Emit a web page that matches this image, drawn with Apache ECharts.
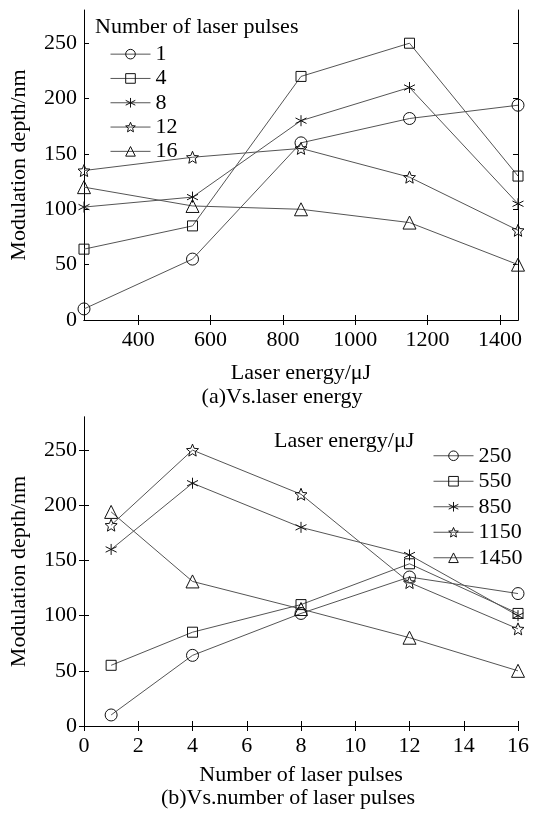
<!DOCTYPE html>
<html>
<head>
<meta charset="utf-8">
<script src="https://cdn.jsdelivr.net/npm/echarts@6/dist/echarts.min.js"></script>
<style>
  html, body { margin: 0; padding: 0; background: #fff; }
  #main { width: 536px; height: 813px; }
</style>
</head>
<body>
<div id="main"></div>
<script>
// (a) x = laser energy, one line per number of pulses
var energies = [250, 550, 850, 1150, 1450];
var pulses1 = [10, 55, 160, 182, 194];
var pulses4 = [64, 85, 220, 250, 130];
var pulses8 = [102, 111, 180, 210, 105];
var pulses12 = [135, 147, 155, 129, 81];
var pulses16 = [120, 103, 100, 88, 50];
var pulseNames = ['1', '4', '8', '12', '16'];

// (b) x = number of pulses, one line per laser energy
var pulseCounts = [1, 4, 8, 12, 16];
var energy250 = [10, 64, 102, 135, 120];
var energy550 = [55, 85, 110, 147, 102];
var energy850 = [160, 220, 180, 155, 100];
var energy1150 = [182, 250, 210, 130, 88];
var energy1450 = [194, 131, 106, 80, 50];
var energyNames = ['250', '550', '850', '1150', '1450'];

var energyTicks = [400, 600, 800, 1000, 1200, 1400];
var depthTicks = [0, 50, 100, 150, 200, 250];

var FONT = 'Liberation Serif';
var FS = 22;
var STAR = 'path://M0,-1L0.265,-0.364L0.951,-0.309L0.428,0.139L0.588,0.809L0,0.45L-0.588,0.809L-0.428,0.139L-0.951,-0.309L-0.265,-0.364Z';
var ASTER = 'path://M0,-1L0,1M-0.87,-0.5L0.87,0.5M-0.87,0.5L0.87,-0.5';
var symbols = ['circle', 'rect', ASTER, STAR, 'triangle'];
var sizes = [12, 10, 11, 12, 13];

var chart = echarts.init(document.getElementById('main'));

function pairs(xs, ys) {
    var res = [];
    for (var i = 0; i < xs.length; i++) res.push([xs[i], ys[i]]);
    return res;
}

function makeSeries(names, xs, sets, axisIdx) {
    return names.map(function (n, i) {
        return {
            name: n,
            type: 'line',
            xAxisIndex: axisIdx,
            yAxisIndex: axisIdx,
            data: pairs(xs, sets[i]),
            symbol: symbols[i],
            symbolSize: sizes[i],
            showAllSymbol: true,
            lineStyle: { color: '#555', width: 1 },
            itemStyle: { color: 'transparent', borderColor: '#111', borderWidth: 1 },
            emphasis: { disabled: true },
            z: 3
        };
    });
}

var plain = function (v) { return String(v); };
var axisLine = { show: true, lineStyle: { color: '#000', width: 1 } };
var tickIn = { show: true, inside: true, length: 5, lineStyle: { color: '#000' } };
var labelStyle = { fontFamily: FONT, fontSize: FS, color: '#000', formatter: plain };
var nameStyle = { fontFamily: FONT, fontSize: FS, color: '#000' };

function mainX(grid, min, max, name, extra) {
    return Object.assign({
        type: 'value', gridIndex: grid, min: min, max: max, position: 'bottom',
        name: name, nameLocation: 'middle', nameGap: 42, nameTextStyle: nameStyle,
        axisLine: axisLine, axisTick: tickIn,
        axisLabel: Object.assign({ margin: 9 }, labelStyle),
        splitLine: { show: false }
    }, extra || {});
}
function mirrorX(grid, min, max, extra) {
    return Object.assign({
        type: 'value', gridIndex: grid, min: min, max: max, position: 'top',
        axisLine: axisLine, axisTick: tickIn, axisLabel: { show: false },
        splitLine: { show: false }
    }, extra || {});
}
function mainY(grid) {
    return {
        type: 'value', gridIndex: grid, min: 0, max: 280, position: 'left',
        name: 'Modulation depth/nm', nameLocation: 'middle', nameGap: 54,
        nameTextStyle: nameStyle,
        axisLine: axisLine,
        axisTick: Object.assign({ customValues: depthTicks }, tickIn),
        axisLabel: Object.assign({ margin: 7, customValues: depthTicks }, labelStyle),
        splitLine: { show: false }
    };
}
function mirrorY(grid) {
    return {
        type: 'value', gridIndex: grid, min: 0, max: 280, position: 'right',
        axisLine: axisLine,
        axisTick: Object.assign({ customValues: depthTicks }, tickIn),
        axisLabel: { show: false, customValues: depthTicks },
        splitLine: { show: false }
    };
}

function legendFor(names, left, top, lh) {
    return {
        data: names, left: left, top: top,
        orient: 'vertical',
        itemWidth: 40, itemHeight: 12, itemGap: 2,
        textStyle: { fontFamily: FONT, fontSize: FS, color: '#000', lineHeight: lh },
        itemStyle: { color: 'transparent', borderColor: '#111', borderWidth: 1 },
        lineStyle: { color: '#555', width: 1 },
        selectedMode: false
    };
}

var option = {
    animation: false,
    backgroundColor: '#fff',
    textStyle: { fontFamily: FONT },
    grid: [
        { left: 82, right: 18, top: 10, height: 310 },
        { left: 83, right: 18, top: 417, height: 309 }
    ],
    xAxis: [
        mainX(0, 250, 1450, 'Laser energy/\u03bcJ', {
            axisTick: Object.assign({ customValues: energyTicks }, tickIn),
            axisLabel: Object.assign({ margin: 9, customValues: energyTicks }, labelStyle)
        }),
        mirrorX(0, 250, 1450, { axisTick: Object.assign({ customValues: energyTicks }, tickIn) }),
        mainX(1, 0, 16, 'Number of laser pulses', { interval: 2, nameGap: 38 }),
        mirrorX(1, 0, 16, { interval: 2 })
    ],
    yAxis: [mainY(0), mirrorY(0), mainY(1), mirrorY(1)],
    legend: [
        legendFor(pulseNames, 105, 38, 22.3),
        legendFor(energyNames, 428, 439, 23.5)
    ],
    graphic: [
        { type: 'text', x: 95, y: 27, style: { text: 'Number of laser pulses', font: FS + 'px "Liberation Serif"', fill: '#000', verticalAlign: 'middle' } },
        { type: 'text', x: 274, y: 441, style: { text: 'Laser energy/\u03bcJ', font: FS + 'px "Liberation Serif"', fill: '#000', verticalAlign: 'middle' } },
        { type: 'text', x: 282, y: 397, style: { text: '(a)Vs.laser energy', font: FS + 'px "Liberation Serif"', fill: '#000', align: 'center', verticalAlign: 'middle' } },
        { type: 'text', x: 288, y: 798, style: { text: '(b)Vs.number of laser pulses', font: FS + 'px "Liberation Serif"', fill: '#000', align: 'center', verticalAlign: 'middle' } }
    ],
    series: []
        .concat(makeSeries(pulseNames, energies, [pulses1, pulses4, pulses8, pulses12, pulses16], 0))
        .concat(makeSeries(energyNames, pulseCounts, [energy250, energy550, energy850, energy1150, energy1450], 2))
};

chart.setOption(option);
</script>
</body>
</html>
